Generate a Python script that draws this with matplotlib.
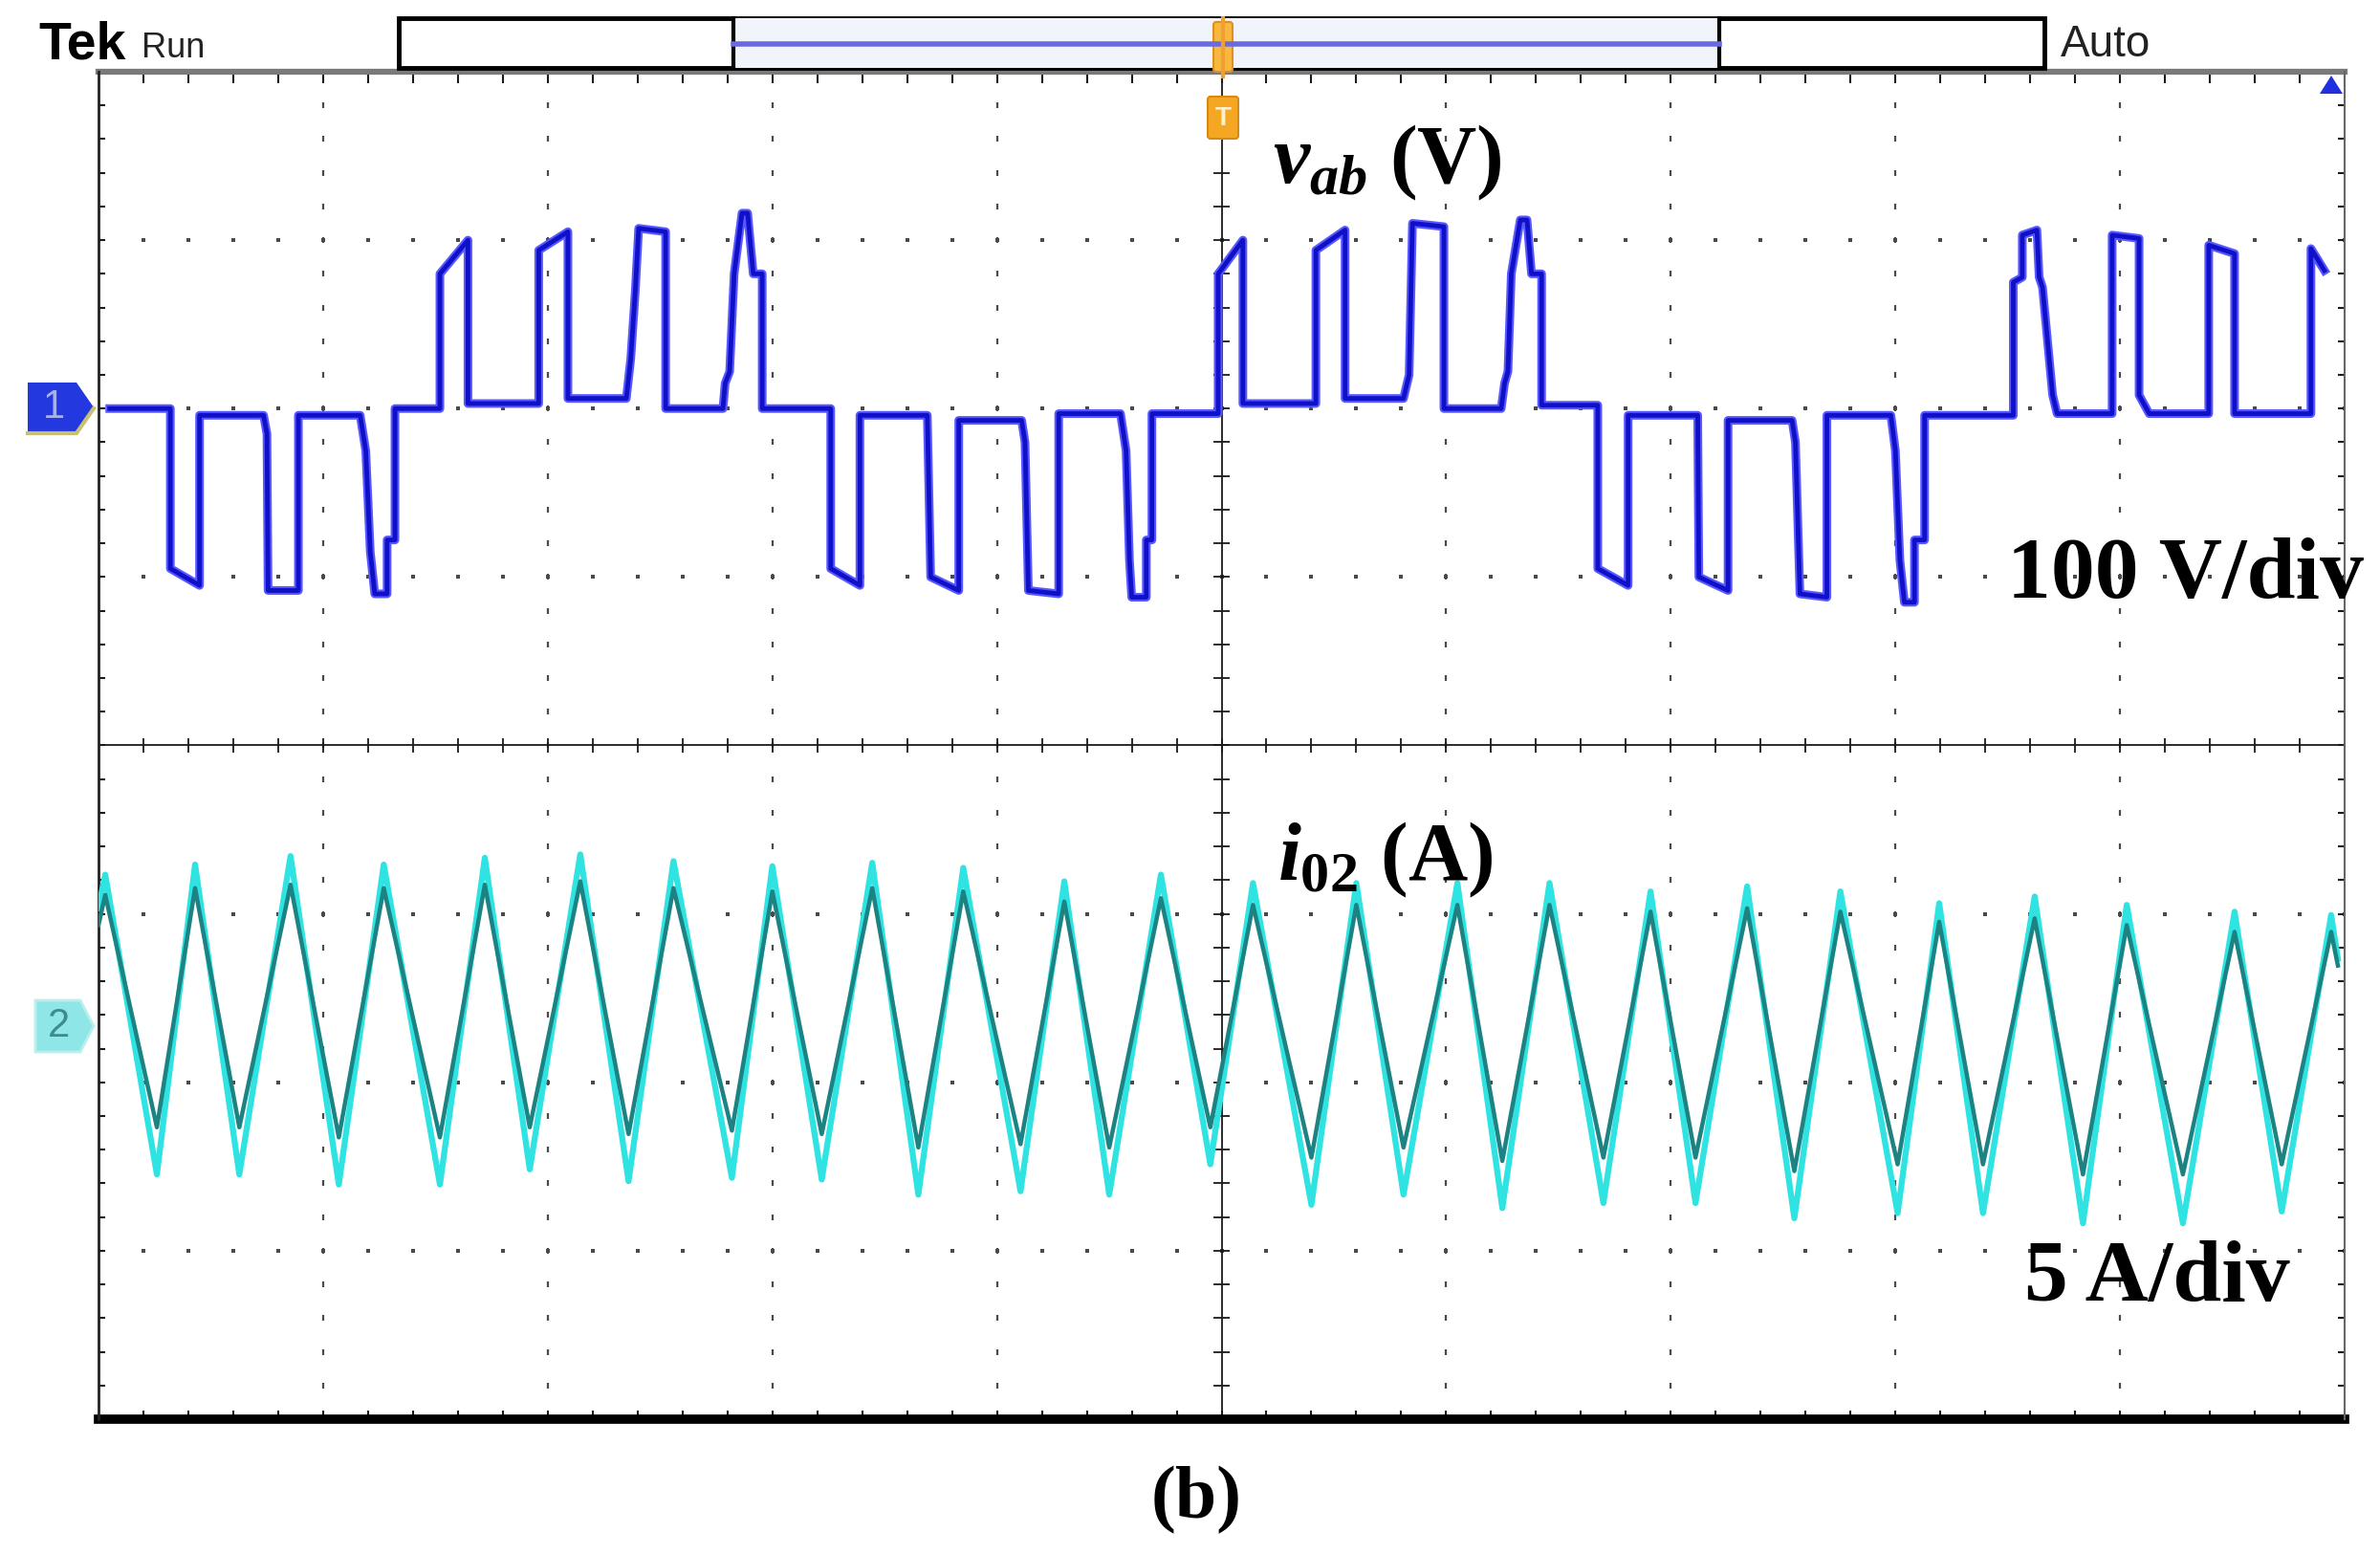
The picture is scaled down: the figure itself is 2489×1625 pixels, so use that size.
import numpy as np
import matplotlib
matplotlib.use('Agg')
import matplotlib.pyplot as plt
from matplotlib.patches import Rectangle, Polygon, FancyBboxPatch

# channel 1: v_ab (V), time in screen divisions
v_t = [0.05, 0.32, 0.32, 0.45, 0.45,
       0.735, 0.75, 0.755, 0.89, 0.89,
       1.165, 1.19, 1.21, 1.23, 1.285, 1.285, 1.32, 1.32,
       1.52, 1.52, 1.645, 1.645,
       1.96, 1.96, 2.09, 2.09,
       2.35, 2.37, 2.39, 2.405, 2.525, 2.525,
       2.78, 2.79, 2.81, 2.83, 2.865, 2.89, 2.915, 2.955, 2.955,
       3.26, 3.26, 3.39, 3.39,
       3.69, 3.705, 3.83, 3.83,
       4.11, 4.125, 4.14, 4.275, 4.275,
       4.55, 4.575, 4.59, 4.60, 4.665, 4.665, 4.69, 4.69,
       4.985, 4.985, 5.095, 5.095,
       5.42, 5.42, 5.55, 5.55,
       5.81, 5.835, 5.85, 5.99, 5.99,
       6.245, 6.26, 6.275, 6.29, 6.33, 6.36, 6.38, 6.425, 6.425,
       6.675, 6.675, 6.81, 6.81,
       7.12, 7.125, 7.255, 7.255,
       7.54, 7.555, 7.575, 7.695, 7.695,
       7.98, 8.00, 8.02, 8.04, 8.085, 8.085, 8.13, 8.13,
       8.525, 8.525, 8.565, 8.565, 8.63, 8.64, 8.655, 8.70, 8.72,
       8.965, 8.965, 9.085, 9.085, 9.13,
       9.395, 9.395, 9.51, 9.51,
       9.85, 9.85, 9.91]
v_volts = [0, 0, -95, -105, -4,
           -4, -15, -108, -108, -4,
           -4, -25, -85, -110, -110, -78, -78, 0,
           0, 80, 100, 3,
           3, 94, 105, 6,
           6, 30, 70, 107, 105, 0,
           0, 15, 22, 80, 116, 116, 80, 80, 0,
           0, -95, -105, -4,
           -4, -100, -108, -7,
           -7, -20, -108, -110, -3,
           -3, -25, -90, -112, -112, -78, -78, -3,
           -3, 80, 100, 3,
           3, 94, 106, 6,
           6, 20, 110, 108, 0,
           0, 15, 22, 80, 112, 112, 80, 80, 2,
           2, -95, -105, -4,
           -4, -100, -108, -7,
           -7, -20, -110, -112, -4,
           -4, -25, -90, -115, -115, -78, -78, -4,
           -4, 75, 78, 103, 106, 78, 72, 8, -3,
           -3, 103, 101, 8, -3,
           -3, 97, 92, -3,
           -3, 95, 82]

# channel 2: i_02 (A), turning points of the triangle
i_t = [0.0, 0.03, 0.26, 0.43, 0.627, 0.855, 1.07, 1.27, 1.52, 1.72, 1.92,
       2.145, 2.36, 2.56, 2.82, 3.0, 3.22, 3.445, 3.65, 3.85, 4.105, 4.30,
       4.50, 4.73, 4.95, 5.14, 5.40, 5.60, 5.81, 6.05, 6.25, 6.46, 6.70,
       6.91, 7.11, 7.34, 7.55, 7.755, 8.01, 8.195, 8.39, 8.62, 8.835, 9.03,
       9.28, 9.51, 9.72, 9.94, 9.97]
i_tips = [3.5, 4.5, -4.4, 4.8, -4.4, 5.05, -4.7, 4.8, -4.7, 5.0, -4.25,
          5.1, -4.6, 4.9, -4.5, 4.75, -4.55, 4.85, -5.0, 4.7, -4.9, 4.3,
          -5.0, 4.5, -4.1, 4.25, -5.3, 4.25, -5.0, 4.25, -5.4, 4.25, -5.25,
          4.0, -5.25, 4.15, -5.7, 4.0, -5.55, 3.65, -5.55, 3.85, -5.85, 3.6,
          -5.85, 3.4, -5.5, 3.3, 2.0]
i_body = [3.0, 3.9, -3.0, 4.1, -3.0, 4.2, -3.3, 4.1, -3.3, 4.2, -3.0,
          4.3, -3.2, 4.1, -3.1, 4.0, -3.2, 4.1, -3.6, 4.0, -3.5, 3.7,
          -3.6, 3.8, -3.0, 3.6, -3.9, 3.6, -3.6, 3.6, -4.0, 3.6, -3.9,
          3.4, -3.9, 3.5, -4.3, 3.4, -4.1, 3.1, -4.1, 3.2, -4.4, 3.0,
          -4.4, 2.8, -4.1, 2.8, 1.8]

ch1_vdiv, ch1_pos = 100, 2.0
ch2_adiv, ch2_pos = 5, -1.667
x_div, y_div = 10, 8

plt.rcParams['mathtext.fontset'] = 'custom'
plt.rcParams['mathtext.it'] = 'Liberation Serif:italic:bold'
plt.rcParams['mathtext.rm'] = 'Liberation Serif:bold'
plt.rcParams['mathtext.default'] = 'it'

W, H = 2489, 1625
fig = plt.figure(figsize=(W / 100, H / 100), dpi=100)
fig.patch.set_facecolor('white')

left, right, top, bottom = 103, 2452, 75, 1484
rect = [left / W, 1 - bottom / H, (right - left) / W, (bottom - top) / H]

# graticule
gax = fig.add_axes(rect)
gax.set_xlim(0, x_div)
gax.set_ylim(-y_div / 2, y_div / 2)
gax.axis('off')

mx = np.arange(0, x_div + 0.01, 0.2)
my = np.arange(-y_div / 2, y_div / 2 + 0.01, 0.2)
dot = '#4a4a4a'
for k in range(1, x_div):
    if k != x_div // 2:
        gax.plot(np.full(my.size, k), my, ls='none', marker='|', ms=4, mew=1.6, color=dot)
for k in range(-y_div // 2 + 1, y_div // 2):
    if k != 0:
        gax.plot(mx, np.full(mx.size, k), ls='none', marker='s', ms=2.2, mew=0, color=dot)

ink = '#1a1a1a'
gax.axvline(x_div / 2, color=ink, lw=1.3)
gax.axhline(0, color=ink, lw=1.3)
gax.hlines(my, x_div / 2 - 0.035, x_div / 2 + 0.035, color=ink, lw=1.3)
gax.vlines(mx, -0.045, 0.045, color=ink, lw=1.3)
gax.vlines(mx, y_div / 2 - 0.07, y_div / 2, color=ink, lw=1.5)
gax.vlines(mx, -y_div / 2, -y_div / 2 + 0.05, color=ink, lw=1.5)
gax.hlines(my, 0, 0.03, color=ink, lw=1.5)
gax.hlines(my, x_div - 0.03, x_div, color=ink, lw=1.5)
gax.axhline(y_div / 2, color='#7a7a7a', lw=4.5, clip_on=False)
gax.axhline(-y_div / 2, color='black', lw=7, clip_on=False)
gax.axvline(0, color='#222222', lw=2, clip_on=False)
gax.axvline(x_div, color='#666666', lw=1.5, clip_on=False)

# channel 2 trace
iax = fig.add_axes(rect)
iax.set_xlim(0, x_div)
iax.set_ylim((-y_div / 2 - ch2_pos) * ch2_adiv, (y_div / 2 - ch2_pos) * ch2_adiv)
iax.axis('off')
iax.plot(i_t, i_tips, color='#2fe3e3', lw=4.5)
iax.plot(i_t, i_body, color='#1c8282', lw=3.2)

# channel 1 trace
vax = fig.add_axes(rect)
vax.set_xlim(0, x_div)
vax.set_ylim((-y_div / 2 - ch1_pos) * ch1_vdiv, (y_div / 2 - ch1_pos) * ch1_vdiv)
vax.axis('off')
vax.plot(v_t, v_volts, color='#5858ff', lw=6.5)
vax.plot(v_t, v_volts, color='#1010c8', lw=3.5)

# screen decorations, pixel coordinates
deco = fig.add_axes([0, 0, 1, 1])
deco.set_xlim(0, W)
deco.set_ylim(H, 0)
deco.axis('off')
deco.patch.set_alpha(0)

sans = ['Liberation Sans', 'DejaVu Sans']
deco.text(40, 48, 'Tek', fontsize=40, fontweight='bold', family=sans, va='center')
deco.text(148, 50, 'Run', fontsize=26, family=sans, va='center', color='#222222')
deco.text(2155, 47, 'Auto', fontsize=33, family=sans, va='center', color='#222222')

deco.add_patch(Rectangle((417, 19), 1721, 52, fc='white', ec='black', lw=3.5))
deco.add_patch(Rectangle((767, 19), 1031, 52, fc='#f2f4fc', ec='none'))
deco.plot([767, 767], [19, 71], color='black', lw=3)
deco.plot([1798, 1798], [19, 71], color='black', lw=3)
deco.plot([767, 1798], [46, 46], color='#6a6ae0', lw=4)

# trigger markers
deco.plot([1279, 1279], [19, 80], color='#f0a030', lw=3)
deco.add_patch(FancyBboxPatch((1272, 26), 14, 46, boxstyle='round,pad=3', fc='#f8b840', ec='#e09020', lw=1.5))
deco.add_patch(FancyBboxPatch((1266, 104), 26, 38, boxstyle='round,pad=3', fc='#f5a623', ec='#d88a10', lw=1.5))
deco.text(1279, 124, 'T', fontsize=20, family=sans, ha='center', va='center', color='#fff0c8', fontweight='bold')
deco.add_patch(Polygon([(2426, 98), (2450, 98), (2438, 79)], fc='#2030e0', ec='none'))

# channel markers
deco.add_patch(Polygon([(29, 400), (80, 400), (98, 426), (80, 452), (29, 452)], fc='#2438e0', ec='none'))
deco.plot([29, 80, 98], [453, 453, 427], color='#c8c070', lw=3)
deco.text(56, 426, '1', fontsize=30, family=sans, ha='center', va='center', color='#a8b0f0')
deco.add_patch(Polygon([(37, 1046), (84, 1046), (98, 1073), (84, 1100), (37, 1100)], fc='#8fe6e6', ec='#bdeeee', lw=2))
deco.text(62, 1073, '2', fontsize=30, family=sans, ha='center', va='center', color='#3c8c8c')

# annotations
serif = dict(family='Liberation Serif', fontweight='bold', color='black')
deco.text(1331, 191, r'$v_{ab}$ (V)', fontsize=62, va='baseline', **serif)
deco.text(2099, 625, '100 V/div', fontsize=66, va='baseline', **serif)
deco.text(1336, 920, r'$i_{02}$ (A)', fontsize=62, va='baseline', **serif)
deco.text(2117, 1360, '5 A/div', fontsize=66, va='baseline', **serif)
deco.text(1251, 1569, '(b)', fontsize=56, ha='center', va='center', **serif)

fig.savefig('out.png', dpi=100, facecolor='white')
